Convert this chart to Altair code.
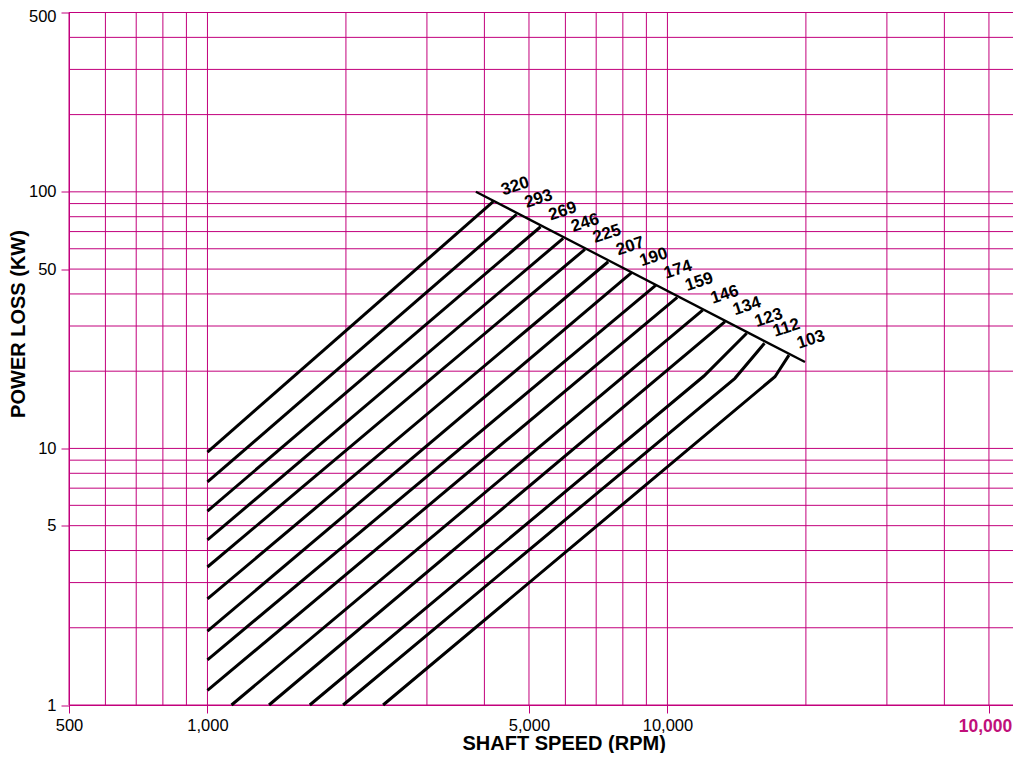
import altair as alt
import pandas as pd

# ---- data ----
labels = ["320", "293", "269", "246", "225", "207", "190",
          "174", "159", "146", "134", "123", "112", "103"]
start_x = [1000, 1000, 1000, 1000, 1000, 1000, 1000, 1000, 1000,
           1128, 1361, 1669, 1972, 2409]
start_y = [9.68, 7.40, 5.70, 4.40, 3.45, 2.59, 1.94, 1.50, 1.14,
           1, 1, 1, 1, 1]
end_x = [4180, 4699, 5300, 5934, 6616, 7434, 8358,
         9441, 10503, 11930, 13340, 14870, 16255, 18375]
end_y = [91.5, 81.7, 73.1, 65.9, 59.7, 53.4, 48.4,
         43.3, 38.8, 34.6, 31.2, 28.1, 25.7, 23.1]
bend_labels = ["123", "112", "103"]
bend_x = [12005, 14020, 17130]
bend_y = [19.15, 18.76, 19.03]
boundary_x = [3833, 19910]
boundary_y = [100.1, 21.7]

x_grid = [500, 600, 700, 800, 900, 1000, 2000, 3000, 4000, 5000, 6000,
          7000, 8000, 9000, 10000, 20000, 30000, 40000, 50000]
y_grid = [1, 2, 3, 4, 5, 6, 7, 8, 9, 10, 20, 30, 40, 50, 60, 70, 80, 90,
          100, 200, 300, 400, 500]
x_ticks = [500, 1000, 5000, 10000, 50000]
y_ticks = [1, 5, 10, 50, 100, 500]

GRID = "#c2007c"
FONT = "Liberation Sans"

rows = []
for i, lab in enumerate(labels):
    pts = [(start_x[i], start_y[i])]
    if lab in bend_labels:
        j = bend_labels.index(lab)
        pts.append((bend_x[j], bend_y[j]))
    pts.append((end_x[i], end_y[i]))
    for k, (x, y) in enumerate(pts):
        rows.append({"label": lab, "order": k, "x": x, "y": y})
lines_df = pd.DataFrame(rows)
labels_df = pd.DataFrame({"label": labels, "x": end_x, "y": end_y})
bound_df = pd.DataFrame({"x": boundary_x, "y": boundary_y, "order": [0, 1]})
xgrid_df = pd.DataFrame({"x": x_grid})
ygrid_df = pd.DataFrame({"y": y_grid})

xscale = alt.Scale(type="log", domain=[500, 56400], nice=False)
yscale = alt.Scale(type="log", domain=[1, 500], nice=False)

xax = alt.Axis(
    values=x_ticks, grid=False, title="SHAFT SPEED (RPM)",
    labelExpr="datum.value == 50000 ? '10,000' : format(datum.value, ',')",
    labelFlush=False, labelOverlap=False, labelPadding=4,
    labelColor={"condition": {"test": "datum.value == 50000", "value": "#c0107a"}, "value": "#000000"},
    labelFontWeight={"condition": {"test": "datum.value == 50000", "value": "bold"}, "value": "normal"},
    labelFontSize={"condition": {"test": "datum.value == 50000", "value": 17.5}, "value": 16.5},
    labelOffset={"condition": {"test": "datum.value == 50000", "value": -4}, "value": 0},
    titleX=494.7, titleY=44, titleAlign="center", titleBaseline="alphabetic",
)
yax = alt.Axis(
    values=y_ticks, grid=False, title="POWER LOSS (KW)",
    labelOverlap=False, labelPadding=5, labelFontSize=16.5,
    labelOffset={"condition": {"test": "datum.value == 500", "value": 4}, "value": 0},
    titleX=-50.5, titleY=311, titleAlign="center", titleBaseline="middle",
)

X = lambda f: alt.X(f"{f}:Q", scale=xscale, axis=xax)
Y = lambda f: alt.Y(f"{f}:Q", scale=yscale, axis=yax)

vgrid = alt.Chart(xgrid_df).mark_rule(color=GRID, strokeWidth=1).encode(x=X("x"))
hgrid = alt.Chart(ygrid_df).mark_rule(color=GRID, strokeWidth=1).encode(y=Y("y"))

lines = alt.Chart(lines_df).mark_line(color="black", strokeWidth=3).encode(
    x=X("x"), y=Y("y"), detail="label:N", order="order:Q"
)
boundary = alt.Chart(bound_df).mark_line(color="black", strokeWidth=2.3).encode(
    x=X("x"), y=Y("y"), order="order:Q"
)
text = alt.Chart(labels_df).transform_calculate(
    lx="datum.x * 1.1165", ly="datum.y * 1.149"
).mark_text(
    font=FONT, fontSize=17, fontWeight="bold", color="black",
    angle=342, align="center", baseline="middle"
).encode(x=X("lx"), y=Y("ly"), text="label:N")

chart = alt.layer(vgrid, hgrid, lines, boundary, text).properties(
    width=944, height=692.5,
    autosize=alt.AutoSizeParams(type="none"),
    padding={"left": 61, "top": 4.5, "right": 0, "bottom": 48},
    background="white",
).configure_view(stroke=None).configure_axis(
    domainColor=GRID, tickColor=GRID, tickSize=8, domainWidth=1,
    labelFont=FONT, labelColor="black",
    titleFont=FONT, titleFontSize=20, titleFontWeight="bold", titleColor="black",
)

chart.save("out.html", embed_options={"renderer": "svg", "actions": False})
